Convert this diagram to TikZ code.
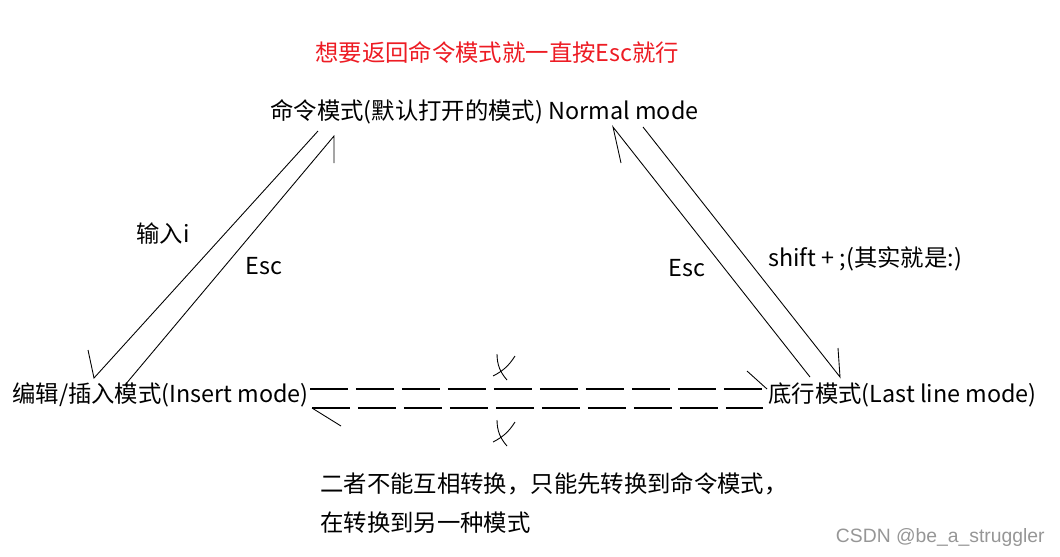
\documentclass[tikz,border=0pt]{standalone}
\usepackage{fontspec}
\setmainfont{Noto Sans CJK SC}
\newfontfamily\wmfont{Liberation Sans}
\usetikzlibrary{positioning}
\definecolor{titlered}{RGB}{237,28,36}
\definecolor{wmgray}{RGB}{150,150,150}
\tikzset{modenode/.style={inner sep=0pt, anchor=west, font=\fontsize{13.3}{16}\selectfont},
  labelnode/.style={inner sep=0pt, font=\fontsize{13.3}{16}\selectfont},
  handline/.style={line width=0.5pt},
  dashline/.style={line width=0.6pt, dash pattern=on 0.76cm off 0.16cm},}

\begin{document}
\begin{tikzpicture}[x=0.02cm, y=-0.02cm]
\useasboundingbox (0,0) rectangle (1060,556);
% modes
\node [modenode, text=titlered] (title) at (315,53) {想要返回命令模式就一直按Esc就行};
\node [modenode] (normal) at (270,112) {命令模式(默认打开的模式) Normal mode};
\node [modenode] (insert) at (12,395) {编辑/插入模式(Insert mode)};
\node [modenode] (last) at (768,395) {底行模式(Last line mode)};
% labels
\node [labelnode] (inputi) at (163,234) {输入i};
\node [labelnode] (escl) at (264,266) {Esc};
\node [labelnode] (escr) at (687,268) {Esc};
\node [modenode] (shift) at (768,259) {shift + ;(其实就是:)};
\node [modenode] (note1) at (320,484) {二者不能互相转换，只能先转换到命令模式，};
\node [modenode] (note2) at (320,523) {在转换到另一种模式};
\node [inner sep=0pt, anchor=east, text=wmgray, font=\wmfont\fontsize{11}{13}\selectfont] (mark) at (1045,537) {CSDN @be\_a\_struggler};
% ends of the arrows
\coordinate (n1) at (318,131);
\coordinate (i1) at (94,378);
\coordinate (i2) at (125,385);
\coordinate (n2) at (334,136);
\coordinate (l1) at (810,377);
\coordinate (n3) at (613,127);
\coordinate (n4) at (643,127);
\coordinate (l2) at (840,377);
\coordinate (i3) at (310,389);
\coordinate (l3) at (767,389);
\coordinate (i4) at (312,408);
\coordinate (l4) at (763,408);
\coordinate (xu) at (503,367);
\coordinate (xd) at (503,433);
% left side
\draw[handline] (n1) -- (i1) -- ++(-6,-28);
\draw[handline] (i2) -- (n2) -- ++(0,27);
% right side
\draw[handline] (l1) -- (n3) -- ++(8,36);
\draw[handline] (n4) -- (l2) -- ++(-2,-29);
% no direct change
\draw[dashline] (i3) -- (l3);
\draw[handline] (l3) -- ++(-20,-18);
\draw[dashline] (i4) -- (l4);
\draw[handline] (i4) -- ++(29,18);
\foreach \c in {xu, xd} {
  \draw[handline] (\c) ++(-6,-13) to[bend right=20] ++(10,26);
  \draw[handline] (\c) ++(12,-11) to[bend left=15] ++(-22,20);
}
\end{tikzpicture}
\end{document}
